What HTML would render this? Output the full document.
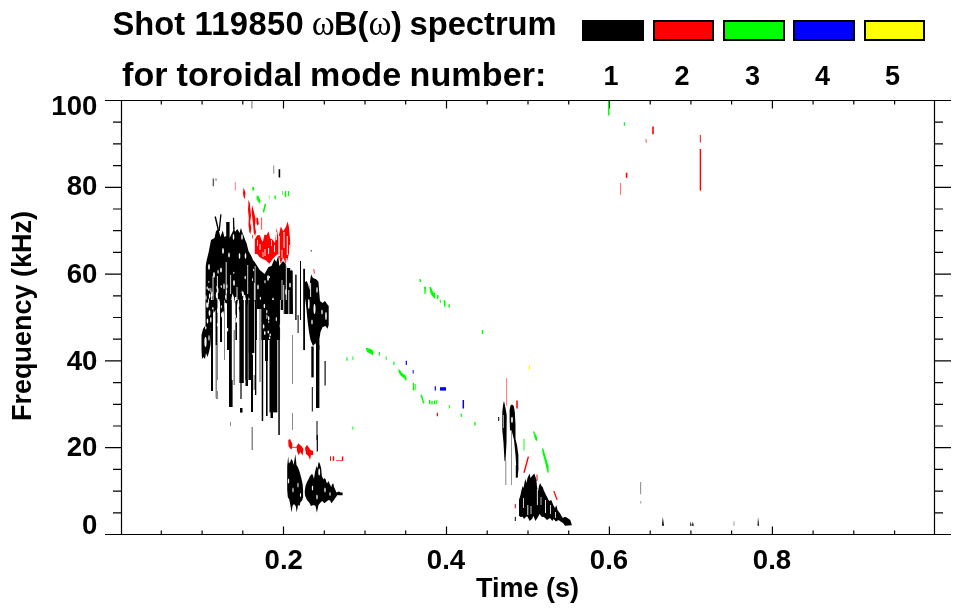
<!DOCTYPE html>
<html><head><meta charset="utf-8"><style>
html,body{margin:0;padding:0;background:#fff;}
body{width:963px;height:615px;overflow:hidden;position:relative;}
svg{position:absolute;left:0;top:0;}
.t{font-family:"Liberation Sans",Arial,sans-serif;font-weight:bold;fill:#000;}
.s{font-family:"Liberation Serif","DejaVu Serif",serif;font-weight:normal;}
</style></head><body>
<svg width="963" height="615" viewBox="0 0 963 615">
<path d="M105 100.5H951M105 534.5H951M121.5 100.5V534.5M934.5 100.5V534.5" stroke="#000" stroke-width="1.2" fill="none"/>
<path d="M105 534.5H121.5M934.5 534.5H951M113 512.8H121.5M934.5 512.8H943M113 491.1H121.5M934.5 491.1H943M113 469.4H121.5M934.5 469.4H943M105 447.7H121.5M934.5 447.7H951M113 426.0H121.5M934.5 426.0H943M113 404.3H121.5M934.5 404.3H943M113 382.6H121.5M934.5 382.6H943M105 360.9H121.5M934.5 360.9H951M113 339.2H121.5M934.5 339.2H943M113 317.5H121.5M934.5 317.5H943M113 295.8H121.5M934.5 295.8H943M105 274.1H121.5M934.5 274.1H951M113 252.4H121.5M934.5 252.4H943M113 230.7H121.5M934.5 230.7H943M113 209.0H121.5M934.5 209.0H943M105 187.3H121.5M934.5 187.3H951M113 165.6H121.5M934.5 165.6H943M113 143.9H121.5M934.5 143.9H943M113 122.2H121.5M934.5 122.2H943M105 100.5H121.5M934.5 100.5H951M161.3 100.5V104.5M161.3 534.5V530.5M202.1 100.5V104.5M202.1 534.5V530.5M242.8 100.5V104.5M242.8 534.5V530.5M283.5 100.5V108.5M283.5 534.5V526.5M324.3 100.5V104.5M324.3 534.5V530.5M365.0 100.5V104.5M365.0 534.5V530.5M405.7 100.5V104.5M405.7 534.5V530.5M446.5 100.5V108.5M446.5 534.5V526.5M487.2 100.5V104.5M487.2 534.5V530.5M528.0 100.5V104.5M528.0 534.5V530.5M568.7 100.5V104.5M568.7 534.5V530.5M609.4 100.5V108.5M609.4 534.5V526.5M650.2 100.5V104.5M650.2 534.5V530.5M690.9 100.5V104.5M690.9 534.5V530.5M731.6 100.5V104.5M731.6 534.5V530.5M772.4 100.5V108.5M772.4 534.5V526.5M813.1 100.5V104.5M813.1 534.5V530.5M853.8 100.5V104.5M853.8 534.5V530.5M894.6 100.5V104.5M894.6 534.5V530.5" stroke="#000" stroke-width="1.2" fill="none"/>
<polygon points="254.8,239.4 257.2,235.3 260.0,235.3 261.3,239.4 262.9,241.8 264.5,234.5 266.5,235.3 268.6,231.3 270.2,238.5 272.6,239.4 275.0,243.0 276.7,228.0 278.3,237.8 280.8,226.4 283.2,231.3 285.7,227.2 287.7,221.5 289.0,227.2 290.1,239.4 290.2,247.5 289.0,253.2 287.3,260.5 285.7,263.8 283.2,257.3 280.8,263.8 278.3,254.0 276.0,255.6 272.6,258.9 269.4,263.8 266.1,260.5 262.9,258.9 259.6,257.3 257.2,254.0 254.8,254.0" fill="#f00"/>
<line x1="268.6" y1="248.0" x2="268.6" y2="254.0" stroke="#fff" stroke-width="1.0"/>
<line x1="279.1" y1="236.0" x2="279.1" y2="256.0" stroke="#fff" stroke-width="1.4"/>
<line x1="287.3" y1="236.0" x2="287.3" y2="255.0" stroke="#fff" stroke-width="1.0"/>
<line x1="284.0" y1="232.0" x2="284.0" y2="248.0" stroke="#fff" stroke-width="1.0"/>
<line x1="274.5" y1="245.0" x2="274.5" y2="252.0" stroke="#fff" stroke-width="0.9"/>
<line x1="260.0" y1="244.0" x2="260.0" y2="250.0" stroke="#fff" stroke-width="0.9"/>
<line x1="265.0" y1="249.0" x2="265.0" y2="256.0" stroke="#fff" stroke-width="0.9"/>
<line x1="282.0" y1="250.0" x2="282.0" y2="258.0" stroke="#fff" stroke-width="0.9"/>
<line x1="271.5" y1="240.0" x2="271.5" y2="246.0" stroke="#fff" stroke-width="0.8"/>
<line x1="257.5" y1="240.0" x2="257.5" y2="246.0" stroke="#fff" stroke-width="0.8"/>
<line x1="263.0" y1="252.0" x2="263.0" y2="257.0" stroke="#fff" stroke-width="0.8"/>
<line x1="276.5" y1="232.0" x2="276.5" y2="240.0" stroke="#fff" stroke-width="0.9"/>
<line x1="289.5" y1="245.0" x2="289.5" y2="252.0" stroke="#fff" stroke-width="0.8"/>
<polygon points="248.2,200.0 249.8,203.0 250.5,210.0 251.0,216.0 250.2,222.0 251.3,228.0 250.5,234.0 249.3,232.0 248.5,225.0 248.8,218.0 248.0,210.0 248.4,204.0" fill="#f00"/>
<polygon points="252.0,205.0 253.2,209.0 254.2,213.0 255.6,219.0 255.0,226.0 256.0,232.0 255.2,236.0 253.8,233.0 253.2,226.0 252.4,219.0 251.6,212.0" fill="#f00"/>
<polygon points="256.4,217.4 258.0,218.0 258.8,224.0 257.5,225.6 256.4,223.0" fill="#f00"/>
<line x1="261.5" y1="217.4" x2="261.5" y2="229.6" stroke="#f00" stroke-width="1.3" opacity="0.6"/>
<line x1="252.5" y1="235.0" x2="252.5" y2="238.5" stroke="#f00" stroke-width="1" opacity="0.7"/>
<polygon points="243.6,187.4 244.5,190.0 245.5,193.0 244.8,199.0 243.6,197.0 243.0,193.0" fill="#f00"/>
<line x1="235.3" y1="182.0" x2="235.3" y2="190.5" stroke="#f00" stroke-width="1" opacity="0.5"/>
<line x1="253.2" y1="187.0" x2="253.2" y2="190.5" stroke="#0f0" stroke-width="1.8"/>
<polygon points="256.6,195.4 258.5,196.0 260.5,201.0 260.0,203.7 258.3,202.0 256.6,199.0" fill="#0f0"/>
<line x1="265.4" y1="204.0" x2="263.4" y2="212.4" stroke="#0f0" stroke-width="1.6"/>
<line x1="269.3" y1="195.4" x2="269.3" y2="199.3" stroke="#0f0" stroke-width="1" opacity="0.5"/>
<line x1="275.1" y1="195.4" x2="275.1" y2="199.3" stroke="#0f0" stroke-width="1.4"/>
<line x1="282.5" y1="191.0" x2="282.5" y2="195.0" stroke="#0f0" stroke-width="1" opacity="0.6"/>
<line x1="285.5" y1="191.0" x2="285.5" y2="197.0" stroke="#0f0" stroke-width="1.5"/>
<line x1="288.5" y1="191.0" x2="288.5" y2="196.0" stroke="#0f0" stroke-width="1.2"/>
<line x1="213.3" y1="178.6" x2="213.3" y2="186.3" stroke="#444" stroke-width="1.2"/>
<line x1="216.0" y1="178.6" x2="216.0" y2="180.6" stroke="#444" stroke-width="1"/>
<line x1="273.7" y1="165.6" x2="273.7" y2="173.4" stroke="#999" stroke-width="1.2"/>
<line x1="279.4" y1="169.2" x2="279.4" y2="177.5" stroke="#000" stroke-width="1.6"/>
<line x1="251.9" y1="101.0" x2="251.9" y2="108.4" stroke="#999" stroke-width="1.4"/>
<line x1="311.3" y1="250.0" x2="311.3" y2="251.5" stroke="#555" stroke-width="1.2"/>
<line x1="313.7" y1="269.0" x2="314.5" y2="273.6" stroke="#f00" stroke-width="1.2" opacity="0.7"/>
<polygon points="205.5,300.0 205.7,266.0 206.5,261.0 208.7,252.0 211.0,240.0 214.5,238.0 216.0,231.0 218.5,229.0 220.4,237.0 222.8,230.4 224.3,237.0 226.2,236.0 226.2,222.0 229.6,222.0 229.6,238.0 231.5,234.0 233.0,231.0 234.0,226.0 235.0,232.0 237.4,229.0 239.5,233.0 240.9,228.0 242.5,233.0 243.8,236.0 245.2,240.0 246.5,243.0 248.5,251.0 251.3,256.0 253.0,260.0 255.0,262.5 259.8,270.0 264.6,274.0 268.5,267.0 271.5,266.0 274.4,259.0 276.3,262.0 278.3,255.2 279.3,266.0 283.0,261.0 285.9,264.0 287.3,268.0 290.0,268.0 292.7,271.0 293.0,314.0 283.0,314.0 283.0,310.0 280.2,310.0 280.2,340.0 261.4,340.0 261.4,309.0 256.9,309.0 256.9,300.0 255.0,300.0 254.0,302.5 252.2,312.4 250.6,303.7 248.8,296.9 247.1,306.2 245.1,295.0 243.6,294.9 241.6,307.6 240.3,313.6 238.2,306.7 236.3,296.3 235.1,304.1 233.9,297.0 232.4,293.6 230.8,302.3 228.7,303.9 226.9,303.5 225.0,302.6 223.5,314.0 221.3,310.6 219.4,299.6 218.0,299.1 216.7,309.1 215.1,310.8 213.6,313.1 211.5,293.0 211.0,300.0" fill="#000"/>
<line x1="215.2" y1="216.5" x2="218.6" y2="231.0" stroke="#000" stroke-width="1.4"/>
<line x1="220.9" y1="214.3" x2="219.2" y2="231.0" stroke="#000" stroke-width="1.3"/>
<line x1="233.5" y1="217.7" x2="233.8" y2="229.0" stroke="#000" stroke-width="1.3"/>
<line x1="213.0" y1="276.0" x2="213.0" y2="300.0" stroke="#fff" stroke-width="0.9"/>
<line x1="217.4" y1="276.0" x2="217.4" y2="300.0" stroke="#fff" stroke-width="0.9"/>
<line x1="226.2" y1="262.0" x2="226.2" y2="300.0" stroke="#fff" stroke-width="0.9"/>
<line x1="230.6" y1="275.0" x2="230.6" y2="294.0" stroke="#fff" stroke-width="0.8"/>
<line x1="237.0" y1="287.0" x2="237.0" y2="300.0" stroke="#fff" stroke-width="0.9"/>
<line x1="247.7" y1="265.0" x2="247.7" y2="294.0" stroke="#fff" stroke-width="0.8"/>
<line x1="254.4" y1="283.0" x2="254.4" y2="300.0" stroke="#fff" stroke-width="0.8"/>
<line x1="286.3" y1="258.0" x2="286.3" y2="300.0" stroke="#fff" stroke-width="0.9"/>
<line x1="282.0" y1="280.0" x2="282.0" y2="300.0" stroke="#fff" stroke-width="0.8"/>
<line x1="280.3" y1="300.0" x2="280.3" y2="340.0" stroke="#fff" stroke-width="0.9"/>
<line x1="283.7" y1="285.0" x2="283.7" y2="314.0" stroke="#fff" stroke-width="0.9"/>
<line x1="288.8" y1="290.0" x2="288.8" y2="314.0" stroke="#fff" stroke-width="0.9"/>
<line x1="255.1" y1="266.0" x2="255.1" y2="340.0" stroke="#fff" stroke-width="0.8"/>
<ellipse cx="223.0" cy="251.0" rx="0.9" ry="3.0" fill="#fff"/>
<ellipse cx="229.0" cy="255.0" rx="0.8" ry="2.5" fill="#fff"/>
<ellipse cx="239.5" cy="256.0" rx="0.8" ry="3.0" fill="#fff"/>
<ellipse cx="245.5" cy="256.0" rx="0.8" ry="3.0" fill="#fff"/>
<ellipse cx="233.5" cy="237.0" rx="0.8" ry="3.0" fill="#fff"/>
<ellipse cx="242.0" cy="237.0" rx="0.8" ry="3.0" fill="#fff"/>
<ellipse cx="209.0" cy="267.0" rx="0.9" ry="3.0" fill="#fff"/>
<ellipse cx="214.0" cy="275.0" rx="0.9" ry="3.0" fill="#fff"/>
<ellipse cx="221.0" cy="270.0" rx="0.9" ry="2.5" fill="#fff"/>
<ellipse cx="234.0" cy="283.0" rx="0.9" ry="3.0" fill="#fff"/>
<ellipse cx="243.0" cy="294.0" rx="0.9" ry="2.5" fill="#fff"/>
<ellipse cx="262.0" cy="262.5" rx="0.8" ry="2.0" fill="#fff"/>
<ellipse cx="268.0" cy="278.0" rx="0.9" ry="3.0" fill="#fff"/>
<ellipse cx="258.0" cy="287.0" rx="0.8" ry="2.5" fill="#fff"/>
<ellipse cx="273.0" cy="300.0" rx="0.8" ry="2.5" fill="#fff"/>
<ellipse cx="286.0" cy="292.0" rx="0.8" ry="3.0" fill="#fff"/>
<ellipse cx="290.0" cy="285.0" rx="0.8" ry="2.5" fill="#fff"/>
<rect x="205.5" y="300.0" width="5.5" height="28.0" fill="#000"/>
<ellipse cx="207.0" cy="305.0" rx="0.8" ry="3.0" fill="#fff"/>
<ellipse cx="209.5" cy="313.0" rx="0.9" ry="3.0" fill="#fff"/>
<ellipse cx="207.5" cy="321.0" rx="0.8" ry="2.5" fill="#fff"/>
<polygon points="201.5,335.0 203.0,329.0 205.0,326.0 207.7,325.0 210.0,326.0 211.3,330.0 210.5,345.0 209.0,352.0 207.5,357.0 206.0,353.0 205.0,359.0 203.5,357.0 202.0,359.0 201.5,350.0" fill="#000"/>
<ellipse cx="205.5" cy="342.0" rx="1.1" ry="5.0" fill="#fff"/>
<ellipse cx="209.0" cy="338.0" rx="0.6" ry="3.0" fill="#fff"/>
<rect x="211.0" y="300.0" width="2.0" height="91.0" fill="#000"/>
<rect x="215.5" y="300.0" width="1.5" height="45.0" fill="#000"/>
<rect x="220.0" y="300.0" width="2.0" height="42.0" fill="#000"/>
<rect x="227.0" y="300.0" width="4.8" height="50.0" fill="#000"/>
<rect x="229.0" y="350.0" width="2.8" height="30.0" fill="#000"/>
<rect x="229.0" y="380.0" width="3.6" height="27.0" fill="#000"/>
<rect x="235.4" y="300.0" width="1.6" height="40.0" fill="#000"/>
<rect x="239.4" y="300.0" width="4.4" height="83.0" fill="#000"/>
<rect x="240.4" y="383.0" width="1.2" height="16.0" fill="#000"/>
<rect x="240.0" y="408.0" width="2.5" height="4.6" fill="#000"/>
<rect x="245.2" y="300.0" width="2.6" height="80.0" fill="#000"/>
<rect x="245.5" y="380.0" width="2.5" height="6.0" fill="#000"/>
<rect x="248.2" y="300.0" width="0.6" height="80.0" fill="#000"/>
<rect x="248.7" y="300.0" width="5.6" height="53.0" fill="#000"/>
<rect x="249.0" y="353.0" width="3.3" height="27.0" fill="#000"/>
<rect x="255.6" y="300.0" width="1.3" height="40.0" fill="#000"/>
<rect x="251.0" y="355.0" width="2.0" height="57.0" fill="#000"/>
<rect x="255.0" y="300.0" width="1.3" height="95.0" fill="#000"/>
<rect x="261.7" y="300.0" width="1.5" height="121.0" fill="#000"/>
<rect x="265.0" y="300.0" width="3.0" height="61.0" fill="#000"/>
<rect x="266.0" y="361.0" width="1.6" height="55.0" fill="#000"/>
<rect x="269.5" y="300.0" width="7.8" height="112.4" fill="#000"/>
<rect x="270.5" y="412.0" width="2.5" height="6.0" fill="#000"/>
<rect x="278.3" y="300.0" width="1.5" height="135.0" fill="#000"/>
<rect x="215.5" y="345.0" width="1.5" height="53.0" fill="#888"/>
<rect x="216.0" y="391.0" width="2.0" height="8.0" fill="#888"/>
<rect x="233.5" y="330.0" width="1.5" height="55.0" fill="#888"/>
<rect x="259.3" y="309.0" width="1.4" height="73.0" fill="#888"/>
<rect x="217.0" y="300.0" width="1.0" height="80.0" fill="#888"/>
<rect x="224.0" y="300.0" width="1.0" height="60.0" fill="#888"/>
<rect x="292.0" y="335.0" width="1.0" height="49.0" fill="#888"/>
<rect x="253.5" y="375.0" width="1.5" height="15.0" fill="#888"/>
<rect x="251.5" y="427.0" width="1.5" height="23.0" fill="#888"/>
<rect x="292.0" y="413.0" width="1.0" height="17.0" fill="#888"/>
<rect x="230.0" y="422.0" width="1.0" height="4.0" fill="#888"/>
<rect x="295.2" y="274.6" width="1.4" height="45.4" fill="#000"/>
<rect x="297.6" y="315.0" width="1.0" height="18.0" fill="#000"/>
<rect x="300.0" y="261.0" width="1.0" height="59.0" fill="#000"/>
<rect x="311.3" y="346.5" width="2.4" height="30.9" fill="#000"/>
<rect x="311.8" y="387.0" width="1.0" height="24.5" fill="#000"/>
<rect x="316.0" y="345.0" width="3.4" height="63.0" fill="#000"/>
<rect x="316.5" y="421.0" width="1.0" height="19.0" fill="#000"/>
<rect x="324.3" y="361.0" width="1.7" height="24.5" fill="#555"/>
<rect x="303.2" y="268.8" width="1.8" height="81.2" fill="#000"/>
<polygon points="305.0,282.0 306.5,281.0 308.0,284.0 309.5,290.0 310.2,280.0 311.2,274.6 313.0,278.0 315.6,279.0 317.0,280.0 318.5,282.0 319.2,292.0 320.0,301.0 322.5,303.0 325.0,301.0 327.0,304.0 328.7,306.0 328.7,325.0 327.5,328.7 325.5,326.0 322.6,327.0 320.5,332.0 319.4,339.0 319.4,350.0 317.0,350.0 315.5,343.0 313.0,346.0 310.5,340.0 309.0,332.0 307.5,320.0 306.0,305.0 305.0,298.0" fill="#000"/>
<ellipse cx="314.5" cy="309.0" rx="1.0" ry="5.0" fill="#fff"/>
<ellipse cx="308.8" cy="304.0" rx="0.8" ry="5.0" fill="#fff"/>
<ellipse cx="326.0" cy="316.0" rx="0.8" ry="4.0" fill="#fff"/>
<ellipse cx="312.0" cy="322.0" rx="0.7" ry="2.5" fill="#fff"/>
<ellipse cx="322.0" cy="312.0" rx="0.7" ry="2.5" fill="#fff"/>
<ellipse cx="317.0" cy="290.0" rx="0.7" ry="3.0" fill="#fff"/>
<line x1="310.6" y1="283.0" x2="310.6" y2="297.0" stroke="#fff" stroke-width="0.9"/>
<ellipse cx="233.8" cy="272.8" rx="0.6" ry="1.1" fill="#fff"/>
<ellipse cx="252.4" cy="279.7" rx="0.5" ry="1.6" fill="#fff"/>
<ellipse cx="208.8" cy="281.9" rx="0.5" ry="1.1" fill="#fff"/>
<ellipse cx="242.6" cy="294.5" rx="0.5" ry="1.3" fill="#fff"/>
<ellipse cx="260.4" cy="298.3" rx="0.6" ry="1.5" fill="#fff"/>
<ellipse cx="290.9" cy="269.5" rx="0.7" ry="1.3" fill="#fff"/>
<ellipse cx="218.1" cy="271.8" rx="0.6" ry="2.0" fill="#fff"/>
<ellipse cx="221.3" cy="286.6" rx="0.6" ry="1.4" fill="#fff"/>
<ellipse cx="253.4" cy="270.0" rx="0.5" ry="1.2" fill="#fff"/>
<ellipse cx="265.0" cy="281.7" rx="0.6" ry="1.7" fill="#fff"/>
<ellipse cx="245.2" cy="277.6" rx="0.7" ry="1.8" fill="#fff"/>
<ellipse cx="226.9" cy="286.4" rx="0.6" ry="2.1" fill="#fff"/>
<ellipse cx="269.3" cy="277.2" rx="0.7" ry="1.1" fill="#fff"/>
<ellipse cx="242.1" cy="292.2" rx="0.5" ry="1.6" fill="#fff"/>
<ellipse cx="208.9" cy="289.4" rx="0.7" ry="1.7" fill="#fff"/>
<ellipse cx="235.6" cy="299.1" rx="0.7" ry="2.4" fill="#fff"/>
<ellipse cx="225.3" cy="305.5" rx="0.8" ry="2.9" fill="#fff"/>
<ellipse cx="221.6" cy="314.9" rx="0.5" ry="2.6" fill="#fff"/>
<ellipse cx="227.6" cy="329.7" rx="0.7" ry="1.9" fill="#fff"/>
<ellipse cx="218.5" cy="315.1" rx="0.5" ry="2.2" fill="#fff"/>
<ellipse cx="210.9" cy="290.3" rx="0.5" ry="2.7" fill="#fff"/>
<ellipse cx="209.5" cy="296.1" rx="0.6" ry="2.8" fill="#fff"/>
<ellipse cx="207.8" cy="305.2" rx="0.7" ry="2.8" fill="#fff"/>
<ellipse cx="233.7" cy="323.9" rx="0.6" ry="2.1" fill="#fff"/>
<ellipse cx="217.6" cy="324.8" rx="0.8" ry="1.7" fill="#fff"/>
<ellipse cx="211.2" cy="295.4" rx="0.6" ry="2.2" fill="#fff"/>
<ellipse cx="225.6" cy="296.8" rx="0.5" ry="2.1" fill="#fff"/>
<ellipse cx="217.9" cy="310.5" rx="0.8" ry="2.5" fill="#fff"/>
<ellipse cx="223.0" cy="312.8" rx="0.7" ry="1.6" fill="#fff"/>
<ellipse cx="236.5" cy="320.1" rx="0.8" ry="2.7" fill="#fff"/>
<ellipse cx="218.7" cy="303.0" rx="0.5" ry="2.5" fill="#fff"/>
<ellipse cx="207.2" cy="288.0" rx="0.6" ry="1.7" fill="#fff"/>
<ellipse cx="216.9" cy="287.4" rx="0.5" ry="1.7" fill="#fff"/>
<ellipse cx="208.6" cy="301.4" rx="0.5" ry="2.8" fill="#fff"/>
<ellipse cx="226.5" cy="291.7" rx="0.6" ry="2.0" fill="#fff"/>
<ellipse cx="217.7" cy="290.5" rx="0.8" ry="3.0" fill="#fff"/>
<ellipse cx="221.3" cy="306.8" rx="0.5" ry="1.7" fill="#fff"/>
<ellipse cx="217.0" cy="296.9" rx="0.7" ry="1.7" fill="#fff"/>
<ellipse cx="205.8" cy="327.8" rx="0.7" ry="1.7" fill="#fff"/>
<ellipse cx="224.0" cy="286.2" rx="0.7" ry="3.0" fill="#fff"/>
<ellipse cx="235.2" cy="316.3" rx="0.6" ry="2.1" fill="#fff"/>
<ellipse cx="210.8" cy="319.7" rx="0.7" ry="2.7" fill="#fff"/>
<ellipse cx="216.5" cy="295.0" rx="0.7" ry="3.0" fill="#fff"/>
<ellipse cx="234.8" cy="321.3" rx="0.7" ry="2.6" fill="#fff"/>
<ellipse cx="212.9" cy="308.3" rx="0.6" ry="1.5" fill="#fff"/>
<ellipse cx="206.0" cy="297.6" rx="0.6" ry="2.5" fill="#fff"/>
<ellipse cx="238.5" cy="305.1" rx="0.8" ry="3.0" fill="#fff"/>
<ellipse cx="238.4" cy="301.4" rx="0.6" ry="1.8" fill="#fff"/>
<ellipse cx="211.9" cy="294.2" rx="0.7" ry="2.9" fill="#fff"/>
<ellipse cx="234.4" cy="306.6" rx="0.7" ry="2.7" fill="#fff"/>
<ellipse cx="263.6" cy="326.4" rx="0.8" ry="2.2" fill="#fff"/>
<ellipse cx="276.3" cy="319.1" rx="0.6" ry="2.2" fill="#fff"/>
<ellipse cx="268.3" cy="332.0" rx="0.8" ry="1.6" fill="#fff"/>
<ellipse cx="269.6" cy="337.9" rx="0.7" ry="1.3" fill="#fff"/>
<ellipse cx="264.4" cy="306.0" rx="0.8" ry="2.2" fill="#fff"/>
<ellipse cx="264.8" cy="333.1" rx="0.8" ry="2.0" fill="#fff"/>
<ellipse cx="268.7" cy="321.9" rx="0.5" ry="1.0" fill="#fff"/>
<ellipse cx="280.4" cy="326.0" rx="0.7" ry="2.4" fill="#fff"/>
<ellipse cx="270.2" cy="334.9" rx="0.7" ry="1.3" fill="#fff"/>
<ellipse cx="266.8" cy="311.7" rx="0.6" ry="1.9" fill="#fff"/>
<ellipse cx="266.9" cy="316.8" rx="0.5" ry="2.4" fill="#fff"/>
<ellipse cx="268.7" cy="318.3" rx="0.7" ry="2.4" fill="#fff"/>
<polygon points="288.3,440.0 290.0,439.0 292.4,444.0 292.0,449.0 290.0,448.5 288.5,446.0" fill="#f00"/>
<line x1="291.0" y1="447.4" x2="298.0" y2="447.4" stroke="#f00" stroke-width="0.8"/>
<polygon points="296.6,446.0 298.5,443.3 300.0,445.0 301.5,446.0 303.5,449.0 302.5,455.7 300.5,452.0 298.5,455.0 297.0,451.0" fill="#f00"/>
<polygon points="305.0,448.0 307.0,444.7 308.5,447.0 310.5,450.0 313.2,451.0 313.0,455.0 311.0,455.0 310.0,460.0 308.5,456.0 306.0,454.0" fill="#f00"/>
<line x1="330.5" y1="456.3" x2="330.5" y2="460.8" stroke="#f00" stroke-width="1"/>
<line x1="333.5" y1="456.3" x2="333.5" y2="460.8" stroke="#f00" stroke-width="1.4"/>
<line x1="336.0" y1="460.6" x2="343.0" y2="460.6" stroke="#f00" stroke-width="0.7"/>
<line x1="342.6" y1="456.5" x2="342.6" y2="460.8" stroke="#f00" stroke-width="1.4"/>
<line x1="317.3" y1="435.0" x2="317.3" y2="451.6" stroke="#000" stroke-width="1.2"/>
<polygon points="287.2,466.0 287.6,462.0 288.2,456.3 288.8,463.0 290.0,462.5 291.2,459.0 292.5,460.6 293.5,465.0 294.5,460.0 295.2,454.2 296.0,460.0 296.5,465.0 297.8,467.0 299.0,470.0 300.0,473.3 301.3,478.0 302.6,483.9 303.1,490.0 303.1,497.6 302.0,500.8 300.5,502.0 299.5,506.0 298.0,505.0 296.8,512.4 295.7,506.0 294.0,504.0 292.5,506.0 291.5,512.4 290.5,506.0 289.3,499.7 287.8,497.0 287.2,490.0" fill="#000"/>
<polygon points="304.7,491.3 305.5,486.0 307.0,482.0 308.4,479.6 310.0,476.0 312.1,473.8 313.2,476.0 314.0,479.0 315.0,472.0 316.0,468.0 316.9,465.9 317.5,469.0 318.2,464.0 318.9,461.7 320.0,464.0 321.2,468.4 321.8,476.0 323.4,479.2 325.0,478.0 327.0,483.6 328.5,481.0 329.5,483.6 331.2,487.0 332.2,484.0 333.3,483.6 334.0,487.0 335.0,489.0 336.4,492.6 337.5,492.0 339.0,491.5 340.5,492.5 342.6,492.5 342.6,495.2 339.0,495.2 337.5,495.0 336.0,497.0 334.0,500.0 331.5,503.3 330.0,500.5 328.5,500.0 326.0,502.0 324.3,503.3 322.5,501.0 321.0,502.0 318.5,505.0 316.9,512.4 315.5,506.0 313.6,505.0 311.0,506.0 309.5,502.9 307.0,500.0 305.0,495.5" fill="#000"/>
<ellipse cx="288.5" cy="481.0" rx="0.7" ry="2.5" fill="#fff"/>
<ellipse cx="319.2" cy="472.0" rx="0.9" ry="3.5" fill="#fff"/>
<ellipse cx="312.5" cy="488.0" rx="0.7" ry="2.5" fill="#fff"/>
<ellipse cx="317.0" cy="497.0" rx="0.7" ry="2.5" fill="#fff"/>
<ellipse cx="325.0" cy="490.0" rx="0.7" ry="2.5" fill="#fff"/>
<ellipse cx="330.0" cy="494.0" rx="0.6" ry="2.0" fill="#fff"/>
<ellipse cx="293.0" cy="490.0" rx="0.6" ry="2.5" fill="#fff"/>
<ellipse cx="298.0" cy="485.0" rx="0.6" ry="2.5" fill="#fff"/>
<ellipse cx="300.5" cy="495.0" rx="0.6" ry="2.0" fill="#fff"/>
<line x1="506.6" y1="378.0" x2="506.6" y2="405.7" stroke="#f00" stroke-width="0.9" opacity="0.6"/>
<line x1="517.0" y1="400.4" x2="517.0" y2="408.4" stroke="#f00" stroke-width="1.5"/>
<polygon points="502.3,412.0 503.2,404.0 504.0,400.9 505.5,408.0 506.7,415.0 506.5,443.0 505.5,461.0 504.5,461.0 503.5,443.0 502.3,430.0" fill="#000"/>
<line x1="503.5" y1="415.0" x2="503.5" y2="428.0" stroke="#fff" stroke-width="0.6"/>
<line x1="505.8" y1="461.0" x2="505.8" y2="485.0" stroke="#777" stroke-width="0.9"/>
<line x1="498.7" y1="417.0" x2="498.7" y2="421.0" stroke="#000" stroke-width="1.0"/>
<polygon points="509.6,410.0 510.5,405.5 512.0,404.5 513.8,406.0 514.8,412.0 515.5,425.0 515.5,439.0 517.0,445.0 518.4,455.0 518.4,470.0 517.5,477.0 516.5,470.0 515.5,455.0 514.0,440.0 512.0,432.0 510.0,430.0 509.6,420.0" fill="#000"/>
<ellipse cx="512.0" cy="420.0" rx="0.9" ry="3.2" fill="#fff"/>
<line x1="511.5" y1="430.0" x2="511.5" y2="485.0" stroke="#888" stroke-width="0.9"/>
<line x1="524.0" y1="438.8" x2="524.0" y2="450.4" stroke="#0f0" stroke-width="1.2" opacity="0.8"/>
<polygon points="532.9,430.7 534.5,432.0 537.3,438.0 537.0,441.4 535.0,439.0" fill="#0f0"/>
<line x1="528.4" y1="456.6" x2="524.0" y2="472.7" stroke="#f00" stroke-width="1.4"/>
<line x1="516.8" y1="465.0" x2="516.8" y2="477.7" stroke="#000" stroke-width="2.0"/>
<line x1="515.3" y1="516.8" x2="515.3" y2="521.0" stroke="#000" stroke-width="1.0"/>
<line x1="537.0" y1="474.5" x2="537.0" y2="480.9" stroke="#f00" stroke-width="1.0"/>
<line x1="553.8" y1="491.0" x2="557.2" y2="500.0" stroke="#f00" stroke-width="1.2"/>
<line x1="515.3" y1="504.0" x2="515.3" y2="508.4" stroke="#f00" stroke-width="1.0"/>
<polygon points="542.0,448.0 543.5,449.0 546.0,458.0 548.6,466.0 548.6,473.5 547.3,472.0 545.0,462.0 542.5,453.0" fill="#0f0"/>
<polygon points="519.0,500.0 520.6,494.6 521.5,490.0 522.7,486.1 523.5,488.0 525.3,478.7 526.5,483.0 527.5,478.0 529.6,473.5 530.5,478.0 532.0,476.0 534.3,473.5 535.5,477.0 536.4,479.8 537.0,487.0 538.0,491.4 539.0,486.0 540.1,483.0 541.5,486.0 542.8,487.2 544.0,491.0 544.9,492.5 546.0,495.0 547.0,496.7 548.5,500.0 549.5,501.0 551.2,499.9 552.5,503.0 553.4,505.2 555.0,508.0 556.5,505.2 557.5,510.0 559.0,512.0 560.2,513.6 561.5,516.0 562.9,517.9 565.0,516.8 567.5,518.0 570.3,520.0 571.9,525.3 565.0,525.8 563.0,523.0 560.5,521.5 558.6,520.0 556.0,521.5 553.5,519.0 552.3,521.0 550.0,518.0 547.0,520.0 544.0,517.0 541.7,516.8 539.5,514.0 538.0,517.0 535.4,521.0 533.5,516.0 532.0,519.0 529.6,521.0 527.5,516.5 526.0,516.8 524.0,519.0 522.7,516.8 520.5,517.0 519.0,515.8" fill="#000"/>
<line x1="527.8" y1="505.0" x2="527.8" y2="515.0" stroke="#fff" stroke-width="0.9"/>
<line x1="531.0" y1="506.0" x2="531.0" y2="514.0" stroke="#fff" stroke-width="0.8"/>
<line x1="537.4" y1="489.0" x2="537.4" y2="505.0" stroke="#fff" stroke-width="0.9"/>
<line x1="545.5" y1="500.0" x2="545.5" y2="513.0" stroke="#fff" stroke-width="0.9"/>
<line x1="550.5" y1="505.0" x2="550.5" y2="514.0" stroke="#fff" stroke-width="0.8"/>
<line x1="523.5" y1="498.0" x2="523.5" y2="508.0" stroke="#fff" stroke-width="0.8"/>
<line x1="541.0" y1="497.0" x2="541.0" y2="505.0" stroke="#fff" stroke-width="0.7"/>
<line x1="555.5" y1="512.0" x2="555.5" y2="518.0" stroke="#fff" stroke-width="0.8"/>
<line x1="347.0" y1="357.3" x2="347.0" y2="360.7" stroke="#0f0" stroke-width="1.2"/>
<line x1="352.9" y1="356.5" x2="352.9" y2="359.9" stroke="#0f0" stroke-width="1"/>
<line x1="379.4" y1="352.0" x2="379.4" y2="355.6" stroke="#0f0" stroke-width="1.2"/>
<line x1="386.2" y1="356.5" x2="386.2" y2="359.9" stroke="#0f0" stroke-width="1"/>
<line x1="393.9" y1="361.6" x2="393.9" y2="365.0" stroke="#0f0" stroke-width="1.2"/>
<line x1="413.5" y1="382.9" x2="413.5" y2="390.6" stroke="#0f0" stroke-width="1.3"/>
<line x1="415.2" y1="384.0" x2="415.2" y2="390.0" stroke="#0f0" stroke-width="1"/>
<line x1="449.3" y1="405.0" x2="449.3" y2="408.5" stroke="#0f0" stroke-width="1"/>
<line x1="461.3" y1="413.6" x2="461.3" y2="417.0" stroke="#0f0" stroke-width="1.2"/>
<line x1="475.0" y1="422.0" x2="475.0" y2="425.6" stroke="#0f0" stroke-width="1.4"/>
<line x1="352.9" y1="426.4" x2="352.9" y2="429.8" stroke="#0f0" stroke-width="1"/>
<line x1="482.5" y1="330.0" x2="482.5" y2="334.0" stroke="#0f0" stroke-width="1.4"/>
<line x1="420.2" y1="279.0" x2="420.2" y2="282.1" stroke="#0f0" stroke-width="1.4"/>
<line x1="437.7" y1="295.0" x2="437.7" y2="299.0" stroke="#0f0" stroke-width="1.5"/>
<line x1="440.3" y1="299.7" x2="440.3" y2="302.9" stroke="#0f0" stroke-width="1"/>
<line x1="449.2" y1="304.2" x2="449.2" y2="307.5" stroke="#0f0" stroke-width="1.4"/>
<line x1="608.7" y1="101.0" x2="608.7" y2="115.5" stroke="#0f0" stroke-width="1.5"/>
<line x1="624.4" y1="122.3" x2="624.4" y2="125.7" stroke="#0f0" stroke-width="1.2"/>
<polygon points="365.7,348.0 367.0,348.0 369.0,348.5 371.0,349.0 373.4,351.0 373.0,355.6 371.0,354.0 369.0,353.0 367.0,352.0" fill="#0f0"/>
<polygon points="398.1,369.2 400.0,370.0 402.0,373.0 405.0,375.0 406.7,378.0 406.0,381.2 404.0,378.0 401.0,376.0 399.0,373.0" fill="#0f0"/>
<line x1="421.2" y1="394.8" x2="423.7" y2="403.4" stroke="#0f0" stroke-width="1.5"/>
<line x1="429.7" y1="400.0" x2="429.7" y2="404.2" stroke="#0f0" stroke-width="1.4"/>
<line x1="432.0" y1="401.0" x2="432.0" y2="404.2" stroke="#0f0" stroke-width="1.4"/>
<line x1="434.5" y1="400.5" x2="434.5" y2="404.2" stroke="#0f0" stroke-width="1.4"/>
<line x1="437.0" y1="400.0" x2="436.0" y2="404.0" stroke="#0f0" stroke-width="1"/>
<polygon points="424.0,286.7 426.0,286.7 425.5,294.5 424.5,294.0" fill="#0f0"/>
<polygon points="429.3,286.7 431.0,287.0 433.0,292.0 435.1,293.0 435.0,299.0 433.0,297.0 431.5,295.0 430.0,292.0" fill="#0f0"/>
<polygon points="443.6,299.7 445.5,301.0 445.5,307.5 444.0,306.0" fill="#0f0"/>
<line x1="406.3" y1="360.7" x2="406.3" y2="365.0" stroke="#00f" stroke-width="1.2"/>
<line x1="413.2" y1="370.0" x2="413.2" y2="373.5" stroke="#00f" stroke-width="1"/>
<line x1="435.3" y1="386.3" x2="435.3" y2="390.6" stroke="#00f" stroke-width="1.2"/>
<line x1="463.3" y1="400.0" x2="463.3" y2="408.5" stroke="#00f" stroke-width="1.5"/>
<rect x="440.0" y="387.2" width="6.0" height="3.4" fill="#00f"/>
<line x1="437.4" y1="412.8" x2="437.4" y2="416.2" stroke="#f00" stroke-width="1.2"/>
<line x1="529.4" y1="365.2" x2="529.4" y2="370.0" stroke="#ff0" stroke-width="1.3"/>
<line x1="700.4" y1="135.0" x2="700.4" y2="142.5" stroke="#f00" stroke-width="1.2" opacity="0.8"/>
<line x1="700.4" y1="149.0" x2="700.4" y2="190.6" stroke="#f00" stroke-width="1.4"/>
<line x1="653.0" y1="126.6" x2="653.0" y2="134.3" stroke="#f00" stroke-width="1.6"/>
<line x1="645.9" y1="139.0" x2="646.3" y2="142.8" stroke="#f00" stroke-width="1" opacity="0.7"/>
<line x1="626.6" y1="172.7" x2="626.6" y2="177.8" stroke="#f00" stroke-width="1.6"/>
<line x1="620.6" y1="183.0" x2="620.6" y2="195.0" stroke="#f00" stroke-width="1" opacity="0.6"/>
<line x1="640.6" y1="482.0" x2="640.6" y2="494.3" stroke="#999" stroke-width="1.2"/>
<line x1="640.8" y1="501.0" x2="640.8" y2="503.6" stroke="#999" stroke-width="1"/>
<polygon points="662.0,525.7 662.8,516.7 664.0,525.7" fill="#000"/>
<polygon points="690.0,525.7 690.8,521.4 691.6,525.7" fill="#000"/>
<polygon points="692.0,525.7 692.8,521.4 693.8,525.7" fill="#000"/>
<line x1="734.0" y1="521.4" x2="734.0" y2="525.7" stroke="#999" stroke-width="1"/>
<polygon points="757.5,525.7 758.0,516.7 759.0,525.7" fill="#000"/>
<g class="t" font-size="32.7">
<text x="112.5" y="35">Shot</text>
<text x="194.5" y="35" letter-spacing="0.4">119850</text>
<text class="s" x="311.8" y="35.2" font-size="35">ω</text>
<text x="334" y="35">B(</text>
<text class="s" x="368.6" y="35.2" font-size="35">ω</text>
<text x="391" y="35">)</text>
<text x="409.5" y="35">spectrum</text>
</g>
<g class="t" font-size="34.1" letter-spacing="0.1">
<text x="122" y="86">for</text>
<text x="176.5" y="86">toroidal</text>
<text x="310" y="86">mode</text>
<text x="409.5" y="86">number:</text>
</g>
<rect x="582" y="20" width="62" height="21" fill="#000"/>
<rect x="654" y="21" width="59" height="19" fill="#f00" stroke="#000" stroke-width="2"/>
<rect x="724" y="21" width="60" height="19" fill="#0f0" stroke="#000" stroke-width="2"/>
<rect x="794" y="21" width="60" height="19" fill="#00f" stroke="#000" stroke-width="2"/>
<rect x="865" y="21" width="59" height="19" fill="#ff0" stroke="#000" stroke-width="2"/>
<g class="t" font-size="27" text-anchor="middle">
<text x="611" y="85">1</text><text x="682" y="85">2</text><text x="752.5" y="85">3</text><text x="822.5" y="85">4</text><text x="892.5" y="85">5</text>
</g>
<g class="t" font-size="27.6" text-anchor="end">
<text x="97.4" y="115.3">100</text>
<text x="97.4" y="194.9">80</text>
<text x="97.4" y="283">60</text>
<text x="97.4" y="369.8">40</text>
<text x="97.4" y="456.2">20</text>
<text x="97.4" y="534.3">0</text>
</g>
<g class="t" font-size="27.6" text-anchor="middle">
<text x="283.8" y="568.6">0.2</text>
<text x="446" y="568.6">0.4</text>
<text x="609" y="568.6">0.6</text>
<text x="772" y="568.6">0.8</text>
<text x="527.5" y="597" font-size="27">Time (s)</text>
</g>
<text class="t" font-size="27" text-anchor="middle" transform="translate(31.3,316) rotate(-90)">Frequency (kHz)</text>
</svg>
</body></html>
